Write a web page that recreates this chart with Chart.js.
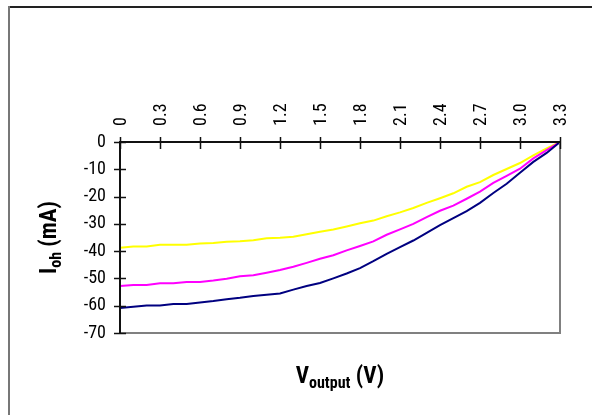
<!DOCTYPE html>
<html><head><meta charset="utf-8">
<script src="https://cdn.jsdelivr.net/npm/chart.js@4/dist/chart.umd.min.js"></script>
<style>html,body{margin:0;padding:0;background:#fff;}canvas{display:block;}</style>
</head><body>
<canvas id="c" width="592" height="415"></canvas>
<script>
const voltages = [0,0.1,0.2,0.3,0.4,0.5,0.6,0.7,0.8,0.9,1.0,1.1,1.2,1.3,1.4,1.5,1.6,1.7,1.8,1.9,2.0,2.1,2.2,2.3,2.4,2.5,2.6,2.7,2.8,2.9,3.0,3.1,3.2,3.3];
const iohNavy = [-60.8,-60.4,-59.9,-59.9,-59.4,-59.4,-58.8,-58.3,-57.6,-57.1,-56.4,-56.0,-55.5,-54.1,-52.8,-51.7,-50.0,-48.2,-46.2,-43.7,-41.0,-38.5,-36.1,-33.3,-30.5,-27.9,-25.3,-22.3,-18.7,-15.3,-11.3,-7.3,-4.0,0];
const iohMagenta = [-52.8,-52.4,-52.4,-51.8,-51.8,-51.3,-51.3,-50.8,-50.1,-49.2,-48.8,-47.9,-46.9,-45.7,-44.3,-42.8,-41.5,-39.7,-38.1,-36.4,-34.0,-32.0,-30.0,-27.5,-25.2,-23.3,-20.8,-18.2,-15.0,-12.4,-9.8,-6.0,-3.0,0];
const iohYellow = [-38.8,-38.3,-38.3,-37.7,-37.7,-37.7,-37.2,-37.0,-36.6,-36.4,-36.0,-35.3,-35.1,-34.7,-33.8,-32.9,-32.1,-31.0,-29.8,-28.8,-27.2,-25.8,-24.2,-22.3,-20.6,-18.8,-16.4,-14.7,-12.1,-9.9,-7.7,-4.9,-2.3,0];
const xTickValues = [0,0.3,0.6,0.9,1.2,1.5,1.8,2.1,2.4,2.7,3.0,3.3];
const xTickLabels = ['0','0.3','0.6','0.9','1.2','1.5','1.8','2.1','2.4','2.7','3.0','3.3'];
const yTickValues = [0,-10,-20,-30,-40,-50,-60,-70];
const yTickLabels = ['0','-10','-20','-30','-40','-50','-60','-70'];

const FONT = '"Roboto Condensed", "Liberation Sans Narrow", "Liberation Sans", Arial, sans-serif';

function pts(vals){ return voltages.map((v,i)=>({x:v,y:vals[i]})); }

const decor = {
  id:'decor',
  beforeDraw(chart){
    const ctx = chart.ctx;
    ctx.save();
    ctx.fillStyle = '#fff';
    ctx.fillRect(0,0,chart.width,chart.height);
    ctx.lineWidth = 2;
    ctx.strokeStyle = '#222';
    ctx.beginPath(); ctx.moveTo(8,7); ctx.lineTo(592,7); ctx.stroke();
    ctx.strokeStyle = '#777';
    ctx.beginPath(); ctx.moveTo(9,6); ctx.lineTo(9,415); ctx.stroke();
    ctx.restore();
  },
  afterDraw(chart){
    const ctx = chart.ctx, a = chart.chartArea;
    const xs = chart.scales.x, ys = chart.scales.y;
    ctx.save();
    ctx.strokeStyle = '#808080'; ctx.lineWidth = 2;
    ctx.beginPath(); ctx.moveTo(a.left, a.bottom); ctx.lineTo(a.right, a.bottom); ctx.lineTo(a.right, a.top); ctx.stroke();
    ctx.strokeStyle = '#111'; ctx.lineWidth = 2;
    ctx.beginPath(); ctx.moveTo(a.left-1, a.top); ctx.lineTo(a.right, a.top); ctx.stroke();
    ctx.beginPath(); ctx.moveTo(a.left, a.top); ctx.lineTo(a.left, a.bottom+1); ctx.stroke();
    ctx.lineWidth = 1.5; ctx.strokeStyle = '#111';
    xTickValues.forEach(v=>{ const px = Math.round(xs.getPixelForValue(v))+0.5; ctx.beginPath(); ctx.moveTo(px, a.top-5); ctx.lineTo(px, a.top+7); ctx.stroke(); });
    yTickValues.forEach(v=>{ const py = Math.round(ys.getPixelForValue(v))+0.5; ctx.beginPath(); ctx.moveTo(a.left-6, py); ctx.lineTo(a.left+6, py); ctx.stroke(); });
    ctx.fillStyle = '#000';
    ctx.textBaseline = 'alphabetic';
    const big = 'bold 23px ' + FONT, small = 'bold 16px ' + FONT;
    const parts = [['V',big,0],['output',small,5],[' (V)',big,0]];
    let w = 0; parts.forEach(p=>{ ctx.font=p[1]; w += ctx.measureText(p[0]).width; });
    let x = (a.left + a.right)/2 - w/2;
    parts.forEach(p=>{ ctx.font=p[1]; ctx.fillText(p[0], x, 383 + p[2]); x += ctx.measureText(p[0]).width; });
    ctx.translate(56, (a.top + a.bottom)/2);
    ctx.rotate(-Math.PI/2);
    const yparts = [['I',big,0],['oh',small,5],[' (mA)',big,0]];
    w = 0; yparts.forEach(p=>{ ctx.font=p[1]; w += ctx.measureText(p[0]).width; });
    x = -w/2;
    yparts.forEach(p=>{ ctx.font=p[1]; ctx.fillText(p[0], x, p[2]); x += ctx.measureText(p[0]).width; });
    ctx.restore();
  }
};

new Chart(document.getElementById('c'), {
  type: 'line',
  data: {
    datasets: [
      {label:'navy', data: pts(iohNavy), borderColor:'#000080', borderWidth:2, pointRadius:0, tension:0, fill:false},
      {label:'magenta', data: pts(iohMagenta), borderColor:'#FF00FF', borderWidth:2, pointRadius:0, tension:0, fill:false},
      {label:'yellow', data: pts(iohYellow), borderColor:'#FFFF00', borderWidth:2, pointRadius:0, tension:0, fill:false}
    ]
  },
  options: {
    responsive:false, animation:false,
    layout:{padding:{left:0, top:0, right:32, bottom:82}},
    plugins:{legend:{display:false}, tooltip:{enabled:false}},
    scales:{
      x:{
        type:'linear', position:'top', min:0, max:3.3,
        afterBuildTicks: s => { s.ticks = xTickValues.map(v=>({value:v})); },
        afterFit: s => { s.height = 142; },
        grid:{display:false, drawTicks:false},
        border:{display:false},
        ticks:{minRotation:90, maxRotation:90, padding:16, labelOffset:23, color:'#000', font:{family:FONT, size:18},
          callback:(v,i)=>xTickLabels[i]}
      },
      y:{
        type:'linear', min:-70, max:0,
        afterBuildTicks: s => { s.ticks = yTickValues.map(v=>({value:v})); },
        afterFit: s => { s.width = 120; },
        grid:{display:false, drawTicks:false},
        border:{display:false},
        ticks:{padding:14, color:'#000', font:{family:FONT, size:18},
          callback:(v,i)=>yTickLabels[i]}
      }
    }
  },
  plugins:[decor]
});
</script>
</body></html>
